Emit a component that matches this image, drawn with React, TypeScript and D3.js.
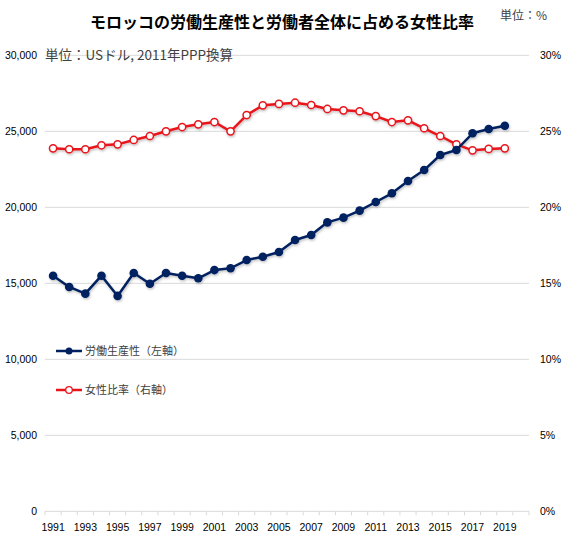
import * as d3 from "d3";

const years = [
  "1991", "1992", "1993", "1994", "1995", "1996", "1997", "1998", "1999", "2000",
  "2001", "2002", "2003", "2004", "2005", "2006", "2007", "2008", "2009", "2010",
  "2011", "2012", "2013", "2014", "2015", "2016", "2017", "2018", "2019", "2020",
];

// labour productivity, USD (2011 PPP)
const productivity = [
  15500, 14760, 14320, 15500, 14170, 15680, 14970, 15680, 15500, 15330,
  15870, 15990, 16530, 16750, 17060, 17850, 18180, 19010, 19320, 19780,
  20350, 20920, 21730, 22450, 23440, 23770, 24870, 25150, 25370,
];

// female share of workforce, %
const femaleShare = [
  23.88, 23.82, 23.82, 24.08, 24.14, 24.43, 24.69, 25.0, 25.28, 25.46,
  25.61, 25.0, 26.07, 26.71, 26.8, 26.88, 26.73, 26.47, 26.38, 26.32,
  26.0, 25.61, 25.72, 25.2, 24.69, 24.14, 23.75, 23.84, 23.88,
];

const leftTicks = [0, 5000, 10000, 15000, 20000, 25000, 30000];
const rightTicks = [0, 5, 10, 15, 20, 25, 30];
const xLabels = years.filter((_, i) => i % 2 === 0 && i < 29);

const TITLE = "モロッコの労働生産性と労働者全体に占める女性比率";
const UNIT_LEFT = "単位：USドル, 2011年PPP換算";
const UNIT_RIGHT = "単位：%";
const LEGEND = ["労働生産性（左軸）", "女性比率（右軸）"];

const WIDTH = 563;
const HEIGHT = 540;
const PLOT = { left: 45, right: 529, top: 55.3, bottom: 511.3 };
const NAVY = "#002060";
const RED = "#e8141b";
const GRID = "#d9d9d9";
const TEXT = "#404040";
const JP = "'Noto Sans CJK JP', 'Noto Sans', sans-serif";
const NUM = "'Liberation Sans', Arial, sans-serif";

export default function App() {
  const x = d3.scaleBand<string>().domain(years).range([PLOT.left, PLOT.right]);
  const cx = (i: number) => (x(years[i]) ?? 0) + x.bandwidth() / 2;
  const yL = d3.scaleLinear().domain([0, 30000]).range([PLOT.bottom, PLOT.top]);
  const yR = d3.scaleLinear().domain([0, 30]).range([PLOT.bottom, PLOT.top]);

  const prodLine = d3.line<number>().x((_, i) => cx(i)).y((d) => yL(d));
  const shareLine = d3.line<number>().x((_, i) => cx(i)).y((d) => yR(d));
  const fmt = d3.format(",");

  return (
    <>
      <style>{"body{margin:0}"}</style>
      <svg width={WIDTH} height={HEIGHT} viewBox={`0 0 ${WIDTH} ${HEIGHT}`}>
        <defs>
          <filter id="shadow" x="-5%" y="-5%" width="110%" height="120%">
            <feDropShadow dx="0.8" dy="1.5" stdDeviation="1" floodColor="#000" floodOpacity="0.25" />
          </filter>
        </defs>
        <rect width={WIDTH} height={HEIGHT} fill="#fff" />

        {/* grid */}
        {leftTicks.map((t) => (
          <line key={t} x1={PLOT.left} x2={PLOT.right} y1={yL(t)} y2={yL(t)} stroke={GRID} strokeWidth={1} />
        ))}
        {d3.range(years.length + 1).map((i) => {
          const xx = PLOT.left + i * x.step();
          return <line key={i} x1={xx} x2={xx} y1={PLOT.bottom} y2={PLOT.bottom + 4} stroke={GRID} />;
        })}

        {/* left axis */}
        {leftTicks.map((t) => (
          <text key={t} x={37} y={yL(t)} dy="0.35em" textAnchor="end" fontFamily={NUM} fontSize={10.5} fill="#000">
            {fmt(t)}
          </text>
        ))}
        {/* right axis */}
        {rightTicks.map((t) => (
          <text key={t} x={540} y={yR(t)} dy="0.35em" fontFamily={NUM} fontSize={10.5} fill="#000">
            {t}%
          </text>
        ))}
        {/* x axis */}
        {xLabels.map((yr) => (
          <text key={yr} x={(x(yr) ?? 0) + x.bandwidth() / 2} y={527} dy="0.35em" textAnchor="middle" fontFamily={NUM} fontSize={10.5} fill="#000">
            {yr}
          </text>
        ))}

        {/* unit labels */}
        <text x={45} y={55} dy="0.35em" fontFamily={JP} fontSize={13.5} fill={TEXT}>{UNIT_LEFT}</text>
        <text x={500} y={16} dy="0.35em" fontFamily={JP} fontSize={12} fill={TEXT}>{UNIT_RIGHT}</text>

        {/* title */}
        <text x={282} y={22} dy="0.35em" textAnchor="middle" fontFamily={JP} fontWeight="bold" fontSize={16} fill="#000">
          {TITLE}
        </text>

        {/* series */}
        <g filter="url(#shadow)">
          <path d={shareLine(femaleShare) ?? ""} fill="none" stroke={RED} strokeWidth={2.5} strokeLinejoin="round" />
          {femaleShare.map((d, i) => (
            <circle key={i} cx={cx(i)} cy={yR(d)} r={3.6} fill="#fff" stroke={RED} strokeWidth={1.5} />
          ))}
          <path d={prodLine(productivity) ?? ""} fill="none" stroke={NAVY} strokeWidth={2.5} strokeLinejoin="round" />
          {productivity.map((d, i) => (
            <circle key={i} cx={cx(i)} cy={yL(d)} r={4.3} fill={NAVY} />
          ))}
        </g>

        {/* legend */}
        {LEGEND.map((label, i) => {
          const ly = 351 + i * 39;
          const color = i === 0 ? NAVY : RED;
          return (
            <g key={label}>
              <line x1={56} x2={82} y1={ly} y2={ly} stroke={color} strokeWidth={2.5} />
              {i === 0 ? (
                <circle cx={69} cy={ly} r={3.5} fill={NAVY} />
              ) : (
                <circle cx={69} cy={ly} r={3.3} fill="#fff" stroke={RED} strokeWidth={1.3} />
              )}
              <text x={85} y={ly} dy="0.35em" fontFamily={JP} fontSize={11} fill={TEXT}>{label}</text>
            </g>
          );
        })}
      </svg>
    </>
  );
}
